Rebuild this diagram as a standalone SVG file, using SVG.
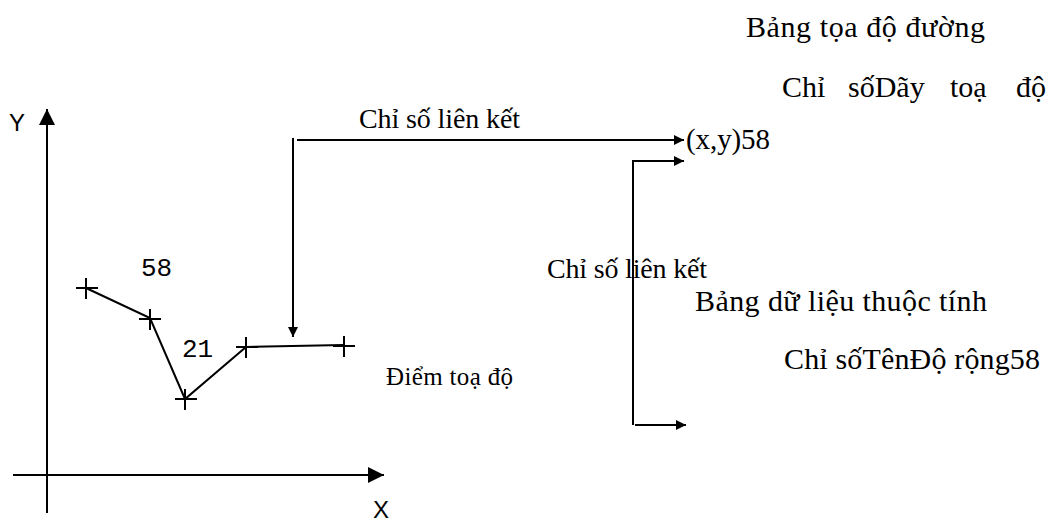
<svg xmlns="http://www.w3.org/2000/svg" width="1053" height="521" viewBox="0 0 1053 521">
<style>
.ln{stroke:#000;stroke-width:2;fill:none}
.serif{font-family:"Liberation Serif","DejaVu Serif",serif;fill:#000}
.sans{font-family:"Liberation Sans","DejaVu Sans",sans-serif;fill:#000}
.mono{font-family:"Liberation Mono","DejaVu Sans Mono",monospace;fill:#000}
</style>
<defs>
<marker id="ah" viewBox="0 0 10 10" refX="10" refY="5" markerWidth="10" markerHeight="10" markerUnits="userSpaceOnUse" orient="auto">
<path d="M0,0 L10,5 L0,10 z" fill="#000"/>
</marker>
<marker id="ahBig" viewBox="0 0 16 16" refX="16" refY="8" markerWidth="16" markerHeight="16" markerUnits="userSpaceOnUse" orient="auto">
<path d="M0,0 L16,8 L0,16 z" fill="#000"/>
</marker>
</defs>
<rect width="1053" height="521" fill="#fff"/>
<g id="axes">
<line class="ln" x1="47" y1="513" x2="47" y2="109" marker-end="url(#ahBig)"/>
<line class="ln" x1="13" y1="475" x2="384" y2="475" marker-end="url(#ahBig)"/>
<text class="sans" x="9" y="131" font-size="24">Y</text>
<text class="sans" x="373" y="518" font-size="24">X</text>
</g>
<g id="polyline">
<polyline class="ln" points="86,288 150,318 185,399 246,347 343,345"/>
<path class="ln" d="M76,288h22M86,278v21 M139,319h22M150,309v21 M175,399h22M185,389v21 M236,347h22M246,337v21 M333,346h22M344,336v21"/>
<text class="mono" x="141" y="276" font-size="26" textLength="31" lengthAdjust="spacing">58</text>
<text class="mono" x="182" y="357" font-size="26" textLength="31" lengthAdjust="spacing">21</text>
<text class="serif" x="386" y="385" font-size="25" textLength="127" lengthAdjust="spacing">Điểm toạ độ</text>
</g>
<g id="coord-table">
<text class="serif" x="746" y="37" font-size="30" textLength="239" lengthAdjust="spacing">Bảng tọa độ đường</text>
<text class="serif" x="782" y="97" font-size="30">Chỉ</text>
<text class="serif" x="848" y="97" font-size="30">sốDãy</text>
<text class="serif" x="950" y="97" font-size="30">toạ</text>
<text class="serif" x="1016" y="97" font-size="30">độ</text>
<text class="serif" x="686" y="149" font-size="29" textLength="84" lengthAdjust="spacing">(x,y)58</text>
</g>
<g id="attr-table">
<text class="serif" x="695" y="311" font-size="30" textLength="292" lengthAdjust="spacing">Bảng dữ liệu thuộc tính</text>
<text class="serif" x="784" y="369" font-size="30" textLength="256" lengthAdjust="spacing">Chỉ sốTênĐộ rộng58</text>
</g>
<g id="connectors">
<path class="ln" d="M293,138 V337" marker-end="url(#ah)"/>
<path class="ln" d="M297,140 H684" marker-end="url(#ah)"/>
<path class="ln" d="M633,425 V161 H684" marker-end="url(#ah)"/>
<path class="ln" d="M635,425 H686" marker-end="url(#ah)"/>
<text class="serif" x="359" y="128" font-size="28" textLength="161" lengthAdjust="spacing">Chỉ số liên kết</text>
<text class="serif" x="547" y="278" font-size="28" textLength="160" lengthAdjust="spacing">Chỉ số liên kết</text>
</g>
</svg>
